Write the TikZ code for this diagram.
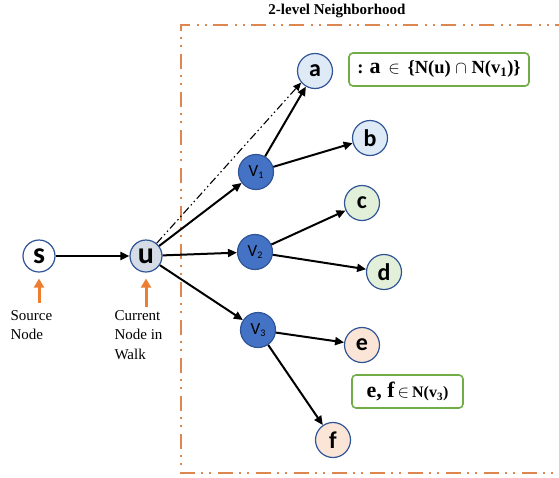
\documentclass[tikz,border=0pt]{standalone}
\usepackage{fontspec}
\setmainfont{Liberation Serif}
\newfontfamily\nodefont{Carlito}
\usetikzlibrary{arrows.meta}
\definecolor{nodeborder}{RGB}{47,85,151}
\definecolor{vfill}{RGB}{68,114,196}
\definecolor{bluefill}{RGB}{222,235,247}
\definecolor{greenfill}{RGB}{226,240,217}
\definecolor{orangefill}{RGB}{251,229,214}
\definecolor{ufill}{RGB}{214,220,229}
\definecolor{boxorange}{RGB}{222,134,80}
\definecolor{arroworange}{RGB}{237,125,49}
\definecolor{boxgreen}{RGB}{112,173,71}
\begin{document}
\begin{tikzpicture}[x=1pt,y=-1pt,
  gnode/.style={circle, draw=nodeborder, line width=1.2pt, minimum size=35pt, inner sep=0pt,
    font=\nodefont\bfseries\fontsize{24}{24}\selectfont},
  bignode/.style={gnode, minimum size=32pt, font=\nodefont\bfseries\fontsize{30}{30}\selectfont},
  vnode/.style={circle, draw=nodeborder, line width=1.2pt, fill=vfill, minimum size=35pt, inner sep=0pt,
    font=\nodefont\fontsize{17}{17}\selectfont},
  link/.style={-{Triangle[length=9pt,width=8pt]}, line width=2pt, black},
  hint/.style={-{Triangle[length=9pt,width=10pt]}, line width=3pt, arroworange, shorten >=6pt},
  greenbox/.style={draw=boxgreen, line width=1.6pt, rounded corners=4pt, inner sep=2pt},
  caption/.style={anchor=north west, align=left, font=\fontsize{15}{19.5}\selectfont}
]
\useasboundingbox (0,0) rectangle (559,477);

% neighbourhood frame
\draw[boxorange, line width=1.6pt, dash pattern=on 15pt off 6pt on 2pt off 6pt on 2pt off 7pt]
  (570,25) -- (181,25) -- (181,473) -- (570,473);
\node[font=\bfseries\fontsize{15}{15}\selectfont] (title) at (337,11) {2-level Neighborhood};

% nodes
\node[bignode, fill=white] (s) at (39,256) {s};
\node[bignode, fill=ufill] (u) at (146,256) {u};
\node[vnode] (v1) at (256,172) {V\raisebox{-2pt}{\fontsize{10}{10}\selectfont 1}};
\node[vnode] (v2) at (255,252) {V\raisebox{-2pt}{\fontsize{10}{10}\selectfont 2}};
\node[vnode] (v3) at (258,330) {V\raisebox{-2pt}{\fontsize{10}{10}\selectfont 3}};
\node[gnode, fill=bluefill] (a) at (315,71) {a};
\node[gnode, fill=bluefill] (b) at (370,138) {b};
\node[gnode, fill=greenfill] (c) at (362,203) {c};
\node[gnode, fill=greenfill] (d) at (384,272) {d};
\node[gnode, fill=orangefill] (e) at (362,345) {e};
\node[gnode, fill=orangefill] (f) at (333,440) {f};

% edges
\draw[link] (s) -- (u);
\draw[link] (u) -- (v1);
\draw[link] (u) -- (v2);
\draw[link] (u) -- (v3);
\draw[link] (v1) -- (a);
\draw[link] (v1) -- (b);
\draw[link] (v2) -- (c);
\draw[link] (v2) -- (d);
\draw[link] (v3) -- (e);
\draw[link] (v3) -- (f);
\draw[-{Triangle[length=8pt,width=7pt]}, line width=1.1pt,
  dash pattern=on 8pt off 3pt on 1.5pt off 3pt on 1.5pt off 3pt] (u.50) -- (a.220);

% side notes
\coordinate (sarrow) at (39,303);
\coordinate (uarrow) at (146,307);
\draw[hint] (sarrow) -- (s.south);
\draw[hint] (uarrow) -- (u.south);
\node[caption] (srclabel) at (7,307) {Source\\Node};
\node[caption] (curlabel) at (111,307) {Current\\Node in\\Walk};

% annotation boxes
\node[greenbox, minimum width=180pt, minimum height=33pt] (box1) at (439,69.5)
  {\bfseries\fontsize{18.5}{18.5}\selectfont : {\fontsize{22}{22}\selectfont a} \,$\in$\, \{N(u) $\cap$ N(v\textsubscript{1})\}};
\node[greenbox, minimum width=111pt, minimum height=33pt] (box2) at (407.5,391.5)
  {{\bfseries\fontsize{22}{22}\selectfont e, f}\hspace{3pt}{\fontsize{17}{17}\selectfont$\in$}\hspace{3pt}{\bfseries\fontsize{16}{16}\selectfont N(v\textsubscript{3})}};
\end{tikzpicture}
\end{document}
